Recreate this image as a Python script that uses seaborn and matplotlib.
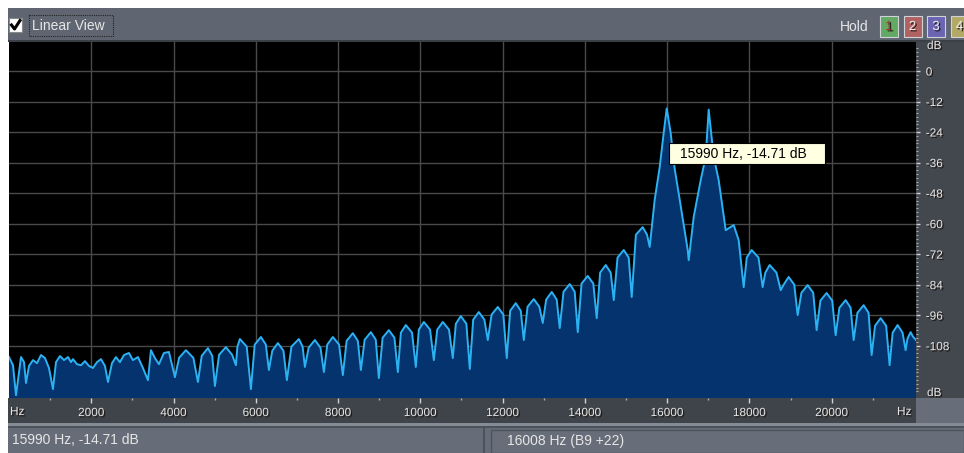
import numpy as np
import pandas as pd
import matplotlib
matplotlib.use('Agg')
import matplotlib.pyplot as plt
import matplotlib.patheffects as pe
from matplotlib.patches import Rectangle
import seaborn as sns

plt.rcParams['font.family'] = ['Liberation Sans', 'DejaVu Sans']

# spectrum (Hz, dB)
freq_hz = [
    0, 97, 170, 243, 292, 365, 413, 486, 583, 680, 778, 875, 972, 1069, 1142, 1239,
    1337, 1434, 1507, 1555, 1652, 1750, 1847, 1944, 2041, 2138, 2236, 2333, 2406, 2503,
    2600, 2697, 2795, 2916, 3013, 3135, 3256, 3378, 3451, 3548, 3645, 3767, 3888,
    4034, 4135, 4301, 4482, 4593, 4685, 4836, 4941, 5006, 5107, 5273, 5424, 5516, 5553,
    5613, 5779, 5881, 5973, 6124, 6244, 6318, 6401, 6537, 6672, 6755, 6866, 7047, 7138,
    7193, 7285, 7436, 7572, 7655, 7738, 7873, 8024, 8116, 8208, 8359, 8480, 8554, 8646,
    8797, 8917, 8991, 9083, 9234, 9370, 9453, 9527, 9647, 9798, 9890, 9964, 10085, 10236,
    10328, 10411, 10546, 10697, 10789, 10863, 10984, 11119, 11202, 11285, 11421, 11557,
    11640, 11732, 11883, 12018, 12101, 12184, 12320, 12441, 12515, 12607, 12758, 12893,
    12976, 13059, 13195, 13315, 13389, 13481, 13632, 13753, 13827, 13919, 14070, 14205,
    14288, 14371, 14507, 14628, 14702, 14794, 14945, 15066, 15139, 15240, 15406, 15511,
    15576, 15697, 15819, 15916, 15990, 16086, 16184, 16330, 16500, 16524, 16646, 16816,
    16937, 17010, 17132, 17253, 17424, 17618, 17739, 17861, 17935, 18055, 18221, 18322,
    18387, 18492, 18658, 18760, 18834, 18954, 19090, 19173, 19265, 19416, 19551, 19634,
    19726, 19877, 20013, 20096, 20188, 20339, 20460, 20534, 20626, 20777, 20897, 20971,
    21054, 21190, 21325, 21408, 21482, 21603, 21723, 21797, 21843, 21919, 21978, 22050,
]
level_db = [
    -112.5, -115.7, -127.5, -118.4, -112.5, -114.5, -122.7, -116.0, -113.7, -114.9, -111.7,
    -112.9, -116.8, -125.1, -114.5, -112.1, -113.7, -112.5, -114.5, -113.3, -115.3, -115.7,
    -114.1, -116.0, -116.8, -114.5, -113.3, -116.0, -122.3, -114.9, -112.5, -114.5, -111.7,
    -110.9, -113.7, -112.5, -116.8, -121.6, -109.8, -112.9, -115.3, -110.9, -110.5,
    -120.4, -112.8, -109.8, -112.8, -122.3, -112.0, -109.0, -112.0, -123.9, -111.6, -108.6,
    -111.6, -115.7, -108.4, -105.4, -108.4, -125.1, -107.6, -104.6, -107.6, -117.6, -110.0,
    -107.0, -110.0, -121.6, -108.4, -105.4, -108.4, -116.4, -108.8, -105.8, -108.8, -118.4,
    -107.6, -104.6, -107.6, -119.6, -106.1, -103.1, -106.1, -117.6, -105.7, -102.7, -105.7,
    -120.8, -104.9, -101.9, -104.9, -118.4, -102.9, -99.9, -102.9, -116.4, -101.7, -98.7,
    -101.7, -113.7, -101.7, -98.7, -101.7, -112.9, -99.4, -96.4, -99.4, -117.2, -97.8,
    -94.8, -97.8, -105.8, -95.8, -92.8, -95.8, -112.9, -94.3, -91.3, -94.3, -105.8, -92.7,
    -89.7, -92.7, -99.1, -89.9, -86.9, -89.9, -101.1, -86.8, -83.8, -86.8, -102.7, -83.6,
    -80.6, -83.6, -97.2, -79.3, -76.3, -79.3, -90.1, -73.4, -70.4, -73.4, -88.9, -64.4,
    -61.4, -64.4, -69.2, -50.7, -37.8, -24.4, -14.71, -24.4, -38.5, -53.1, -70.4, -74.4,
    -57.4, -42.9, -33.8, -15.2, -33.8, -42.9, -62.6, -60.6, -66.5, -85.0, -73.4, -70.4,
    -73.4, -85.0, -79.3, -76.3, -79.3, -86.2, -84.0, -81.0, -84.0, -96.0, -87.2, -84.2,
    -87.2, -101.9, -90.3, -87.3, -90.3, -103.9, -93.1, -90.1, -93.1, -105.8, -95.1, -92.1,
    -95.1, -111.7, -100.2, -97.2, -100.2, -115.7, -102.9, -99.9, -102.9, -109.8, -105.2,
    -102.7, -104.5, -105.8,
]

hz_ticks = [2000, 4000, 6000, 8000, 10000, 12000, 14000, 16000, 18000, 20000]
hz_minor = [1000, 3000, 5000, 7000, 9000, 11000, 13000, 15000, 17000, 19000, 21000]
db_ticks = [0, -12, -24, -36, -48, -60, -72, -84, -96, -108]
hold_labels = ['1', '2', '3', '4']
cursor_text = '15990 Hz, -14.71 dB'
pitch_text = '16008 Hz (B9 +22)'

df = pd.DataFrame({'freq': freq_hz, 'level': level_db})

W, H = 964, 453
fig = plt.figure(figsize=(W / 100, H / 100), dpi=100)
fig.patch.set_facecolor('white')

shadow = [pe.withSimplePatchShadow(offset=(1, -1), shadow_rgbFace='#1a1410', alpha=0.9)]
ui_col = '#e6e6e6'

# window chrome, in pixel coordinates
bg = fig.add_axes([0, 0, 1, 1])
bg.set_xlim(0, W)
bg.set_ylim(H, 0)
bg.axis('off')

def box(x0, y0, x1, y1, fc, ec='none', lw=0, ls='-', z=1):
    bg.add_patch(Rectangle((x0, y0), x1 - x0, y1 - y0, facecolor=fc, edgecolor=ec,
                           lw=lw, ls=ls, zorder=z))

box(8, 8, W, 41, '#5f6672')
box(8, 40, W, 42, '#3b3f46')
box(916, 42, W, 398, '#43484f')
box(8, 398, 916, 423, '#3f444b')
box(916, 398, W, 423, '#676e79')
box(8, 423, W, 426, '#858b94')
box(8, 426, W, H, '#666d78')
box(8, 426, W, 428, '#4c525b', z=2)
box(483, 428, 485, H, '#4c525b', z=2)
box(491, 430, W, H, '#676e79', ec='#4e545c', lw=1, z=2)

# checkbox + label
box(9, 18, 22, 32, 'white', ec='#888888', lw=0.8, z=3)
bg.plot([11.5, 14.5, 20], [25, 29, 20.5], color='black', lw=2.2, zorder=4)
box(29, 15, 113, 36, 'none', ec='#222222', lw=0.8, ls=(0, (1, 1)), z=3)
bg.text(32, 25.5, 'Linear View', color=ui_col, fontsize=10, va='center', ha='left')

# hold buttons
bg.text(840, 27, 'Hold', color=ui_col, fontsize=10, va='center', ha='left')
btn_fc = ['#63a863', '#b06262', '#6b64b3', '#b4a964']
btn_tc = ['#a8322c', '#f0f0f0', '#f0f0f0', '#f0f0f0']
for i, lab in enumerate(hold_labels):
    x0 = 880 + i * 23.5
    box(x0, 16, x0 + 18, 37, btn_fc[i], ec='#cfd3d8', lw=0.8, z=3)
    bg.text(x0 + 9, 27, lab, color=btn_tc[i], fontsize=9.5, ha='center', va='center',
            zorder=4, path_effects=shadow)

# spectrum axes
ax = fig.add_axes([9 / W, (H - 398) / H, (916 - 9) / W, (398 - 42) / H])
ax.set_facecolor('black')
ax.fill_between(df['freq'], df['level'], -200, color='#04336d', lw=0, zorder=1)
sns.lineplot(data=df, x='freq', y='level', ax=ax, color='#2cb2f2', lw=1.4, zorder=2,
             sort=False, estimator=None)
ax.set_xlim(0, 22050)
ax.set_ylim(-128.6, 11.4)
ax.set_xlabel('')
ax.set_ylabel('')
ax.set_xticks(hz_ticks)
ax.set_xticks(hz_minor, minor=True)
ax.set_xticklabels([str(t) for t in hz_ticks])
ax.yaxis.tick_right()
ax.set_yticks(db_ticks)
ax.set_yticks(np.arange(9, -127, -1.5), minor=True)
ax.set_yticklabels([str(t) for t in db_ticks])
ax.set_axisbelow(True)
ax.grid(True, which='major', color='#4a4a4a', lw=1)
ax.tick_params(axis='x', which='major', length=3.5, width=1, color='#d0d0d0', pad=3,
               labelsize=8.5, labelcolor=ui_col)
ax.tick_params(axis='x', which='minor', length=1.5, width=1, color='#b0b0b0')
ax.tick_params(axis='y', which='major', length=3, width=1, color='#d0d0d0', pad=4,
               labelsize=8.5, labelcolor=ui_col)
ax.tick_params(axis='y', which='minor', length=1.3, width=0.8, color='#b0b0b0')
for lab in ax.get_xticklabels() + ax.get_yticklabels():
    lab.set_path_effects(shadow)
for s in ax.spines.values():
    s.set_visible(False)

# unit labels at the ends of the scales
for (x, y, t) in [(927, 46, 'dB'), (927, 393, 'dB'), (10, 412, 'Hz'), (897, 412, 'Hz')]:
    bg.text(x, y, t, color=ui_col, fontsize=8.5, va='center', ha='left',
            path_effects=shadow, zorder=5)

# cursor tooltip
tip = fig.add_axes([0, 0, 1, 1])
tip.set_xlim(0, W)
tip.set_ylim(H, 0)
tip.axis('off')
tip.add_patch(Rectangle((669, 143), 156, 21, facecolor='#ffffe1', edgecolor='black', lw=0.8))
tip.text(680, 154, cursor_text, color='black', fontsize=10, va='center', ha='left')

# status bar
bg.text(12, 440, cursor_text, color=ui_col, fontsize=10, va='center', ha='left', zorder=5)
bg.text(507, 441, pitch_text, color=ui_col, fontsize=10, va='center', ha='left', zorder=5)

fig.savefig('out.png', dpi=100, facecolor=fig.get_facecolor())
